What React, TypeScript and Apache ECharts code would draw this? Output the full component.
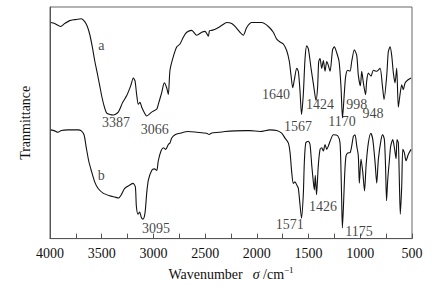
import React, { useEffect, useRef } from "react";
import * as echarts from "echarts";

// Curve a: wavenumber (cm^-1) and transmittance (arbitrary units)
const waveA = [3993, 3955, 3897, 3858, 3810, 3761, 3697, 3664, 3639, 3616, 3591, 3568, 3543, 3519, 3497, 3471, 3452, 3420, 3388, 3340, 3297, 3258, 3220, 3194, 3178, 3162, 3146, 3130, 3113, 3081, 3065, 3017, 2968, 2953, 2920, 2895, 2872, 2856, 2840, 2808, 2775, 2743, 2711, 2678, 2630, 2581, 2533, 2501, 2469, 2458, 2436, 2388, 2340, 2291, 2243, 2211, 2163, 2131, 2098, 2050, 2018, 1953, 1889, 1841, 1808, 1776, 1744, 1711, 1686, 1670, 1653, 1638, 1614, 1599, 1583, 1568, 1551, 1534, 1518, 1502, 1476, 1452, 1428, 1413, 1402, 1389, 1373, 1357, 1341, 1324, 1309, 1292, 1268, 1251, 1228, 1205, 1186, 1172, 1154, 1141, 1121, 1099, 1083, 1057, 1034, 1019, 999, 986, 970, 949, 938, 922, 896, 874, 841, 809, 787, 770, 744, 729, 712, 696, 680, 664, 648, 632, 616, 599, 584, 567, 541, 509];
const transA = [222, 221, 218, 221, 224, 225, 226, 223, 218, 210, 197, 183, 170, 157, 145, 134, 129, 127.5, 127, 130, 140, 147, 157, 165, 162, 148, 138, 140, 135, 128, 126, 130, 133, 138, 150, 160, 155, 148, 173, 187, 197, 200, 207, 212, 214, 209, 212, 213, 208, 213.5, 214, 216, 219, 222, 221, 218, 212, 209, 217, 222, 222, 222, 218, 212, 205, 202, 200, 193, 182, 168, 155, 163, 175, 172, 152, 127.5, 148, 185, 198, 195, 175, 158, 142, 155, 182, 185, 175, 183, 172, 182, 178, 172, 194, 197, 191, 182, 155, 124, 150, 167, 173, 172, 182, 194, 188, 168, 157, 172, 160, 148, 162, 170, 167, 173, 172, 175, 158, 143, 168, 192, 197, 188, 170, 160, 175, 135, 148, 158, 153, 160, 163, 165];

// Curve b
const waveB = [3993, 3955, 3923, 3891, 3826, 3729, 3697, 3671, 3649, 3626, 3601, 3568, 3536, 3487, 3423, 3374, 3336, 3311, 3278, 3229, 3197, 3175, 3165, 3149, 3133, 3117, 3101, 3081, 3065, 3049, 3017, 2991, 2968, 2953, 2927, 2904, 2881, 2856, 2840, 2823, 2791, 2743, 2663, 2581, 2485, 2462, 2436, 2308, 2211, 2114, 2066, 1969, 1873, 1808, 1760, 1728, 1696, 1679, 1663, 1647, 1631, 1614, 1599, 1583, 1568, 1551, 1541, 1527, 1502, 1486, 1469, 1454, 1444, 1435, 1423, 1406, 1389, 1373, 1357, 1341, 1324, 1309, 1292, 1260, 1218, 1196, 1186, 1180, 1173, 1162, 1150, 1138, 1121, 1099, 1083, 1067, 1051, 1034, 1019, 1009, 993, 976, 959, 944, 922, 898, 879, 857, 841, 825, 799, 783, 767, 756, 746, 735, 719, 706, 686, 670, 654, 645, 632, 622, 613, 599, 589, 574, 558, 535, 509];
const transB = [111.7, 110.7, 109.3, 111, 111.7, 111.7, 110.7, 106.7, 93.3, 80, 70, 58.3, 51.7, 46.7, 44, 42.7, 41.7, 45, 51.7, 55, 56.7, 53.3, 33.3, 25, 27.3, 21.7, 20, 26.7, 46.7, 60, 70, 71.7, 70, 80, 90, 93.3, 91.7, 96.7, 98.3, 103.3, 106.7, 108.3, 110, 109.3, 108.3, 107, 108.5, 110, 110.7, 111, 111, 110, 111.7, 111, 108.3, 103.3, 98.3, 88.3, 68.3, 56.7, 58.3, 55, 51.7, 35, 21, 45, 78.3, 98.3, 100, 96.7, 75, 58.3, 50, 65, 45, 75, 91.7, 93.3, 90, 96.7, 91.7, 95, 100, 106.7, 105.7, 98.3, 68, 40, 11, 35, 68, 85, 88, 88.3, 95, 105, 106.7, 95, 85, 57, 81.7, 68.3, 49, 75, 98.3, 108.3, 101.7, 78.3, 57, 81.7, 101.7, 106.7, 101.7, 75, 39, 60, 80, 95, 101.7, 93.3, 82, 101.7, 98.3, 58.3, 25, 55, 91.7, 88.3, 80, 86.7, 91.7];

// Peak annotations
const annText = ["a", "3387", "3066", "1640", "1567", "1424", "1170", "998", "948", "b", "3095", "1571", "1426", "1175"];
const annWave = [3504, 3362, 2988, 1816, 1602, 1389, 1176, 1034, 877, 3504, 2975, 1681, 1360, 1012];
const annTrans = [198.3, 119.5, 111.7, 148, 115, 138.3, 120, 138.3, 128.3, 65, 10.5, 14, 32.5, 7];

const xTicks = [500, 4000, 500]; // min, max, interval

const FONT = "'Liberation Serif', 'Times New Roman', serif";

export default function App() {
  const ref = useRef<HTMLDivElement>(null);
  useEffect(() => {
    if (!ref.current) return;
    const chart = echarts.init(ref.current, null, { renderer: "svg" });
    const lineA = waveA.map((w, i) => [w, transA[i]]);
    const lineB = waveB.map((w, i) => [w, transB[i]]);
    const ann = annText.map((t, i) => ({ name: t, value: [annWave[i], annTrans[i]] }));
    chart.setOption({
      animation: false,
      backgroundColor: "#fff",
      grid: {
        left: 50,
        right: 21,
        top: 7,
        bottom: 41,
        show: true,
        borderColor: "#666",
        borderWidth: 1,
      },
      xAxis: {
        type: "value",
        inverse: true,
        min: xTicks[0],
        max: xTicks[1],
        interval: xTicks[2],
        axisLine: { show: true, lineStyle: { color: "#555", width: 1 } },
        axisTick: { show: true, inside: true, length: 5, lineStyle: { color: "#555" } },
        minorTick: { show: true, splitNumber: 2, length: 5, lineStyle: { color: "#555" } },
        splitLine: { show: false },
        axisLabel: {
          color: "#111",
          fontFamily: FONT,
          fontSize: 14,
          margin: 8,
          formatter: (v: number) => String(v),
        },
        name: "{n|Wavenumber}   {s|σ}{n| /cm}{sup|−1}",
        nameLocation: "middle",
        nameGap: 24,
        nameTextStyle: {
          rich: {
            n: { fontFamily: FONT, fontSize: 14, color: "#111" },
            s: { fontFamily: FONT, fontSize: 14, fontStyle: "italic", color: "#111" },
            sup: { fontFamily: FONT, fontSize: 9, color: "#111", padding: [0, 0, 8, 0] },
          },
        },
      },
      yAxis: {
        type: "value",
        min: 0,
        max: 238,
        axisLine: { show: true, lineStyle: { color: "#555", width: 1 } },
        axisTick: { show: false },
        axisLabel: { show: false },
        splitLine: { show: false },
        name: "Tranmittance",
        nameLocation: "middle",
        nameGap: 18,
        nameTextStyle: { fontFamily: FONT, fontSize: 14, color: "#111" },
      },
      series: [
        {
          type: "line",
          data: lineA,
          showSymbol: false,
          smooth: 0.25,
          lineStyle: { color: "#111", width: 1.1 },
        },
        {
          type: "line",
          data: lineB,
          showSymbol: false,
          smooth: 0.25,
          lineStyle: { color: "#111", width: 1.1 },
        },
        {
          type: "scatter",
          data: ann,
          symbolSize: 0,
          silent: true,
          label: {
            show: true,
            position: "inside",
            formatter: (p: any) => p.name,
            fontFamily: FONT,
            fontSize: 14,
            color: "#111",
          },
        },
      ],
    });
    return () => chart.dispose();
  }, []);
  return (
    <div
      ref={ref}
      style={{ position: "fixed", left: 0, top: 0, width: 433, height: 286, background: "#fff" }}
    />
  );
}
